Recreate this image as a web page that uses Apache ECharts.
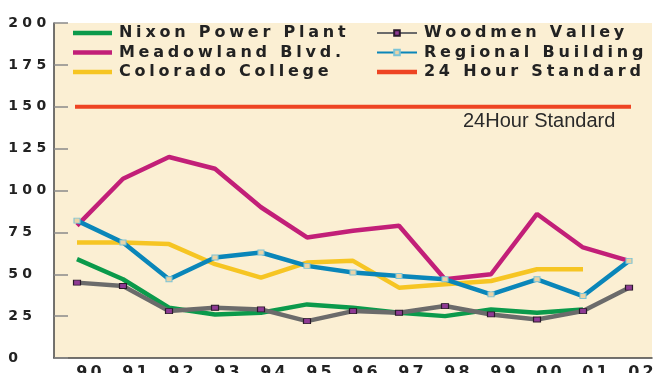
<!DOCTYPE html>
<html>
<head>
<meta charset="utf-8">
<script src="https://cdn.jsdelivr.net/npm/echarts@6/dist/echarts.min.js"></script>
<style>
  html, body { margin: 0; padding: 0; background: #ffffff; }
  #chart { width: 658px; height: 373px; }
</style>
</head>
<body>
<div id="chart"></div>
<script>
// Years along the x axis
const years = ['90', '91', '92', '93', '94', '95', '96', '97', '98', '99', '00', '01', '02'];

// 24-hour values per monitoring site
const nixon      = [59, 47, 30, 26, 27, 32, 30, 27, 25, 29, 27, 29, null];
const woodmen    = [45, 43, 28, 30, 29, 22, 28, 27, 31, 26, 23, 28, 42];
const meadowland = [79, 107, 120, 113, 90, 72, 76, 79, 47, 50, 86, 66, 58];
const regional   = [82, 69, 47, 60, 63, 55, 51, 49, 47, 38, 47, 37, 58];
const colorado   = [69, 69, 68, 56, 48, 57, 58, 42, 44, 46, 53, 53, null];
const standard   = [150, 150, 150, 150, 150, 150, 150, 150, 150, 150, 150, 150, 150];

const seriesNames = ['Nixon Power Plant', 'Meadowland Blvd.', 'Colorado College',
                     'Woodmen Valley', 'Regional Building', '24 Hour Standard'];

// Wide, letter-spaced bold lettering: each character is its own rich segment
function spaced(str) {
  return String(str).split('').map(function (c) { return '{c|' + c + '}'; }).join('');
}
function wideRich(size, pad, lh) {
  return { c: { fontSize: size, fontWeight: 'bold', fontFamily: 'DejaVu Sans', color: '#222222',
                padding: [0, pad, 0, pad], lineHeight: lh } };
}

const bar = 'path://M0,0H40V4.5H0Z';
const chart = echarts.init(document.getElementById('chart'), null, { renderer: 'canvas' });

chart.setOption({
  animation: false,
  backgroundColor: '#ffffff',
  grid: {
    left: 54, right: 6, top: 23, bottom: 15,
    outerBoundsMode: 'none',
    containLabel: false,
    show: true, backgroundColor: '#fbefd3', borderWidth: 0
  },
  legend: [
    {
      orient: 'vertical', left: 73, top: 25, padding: 0,
      itemWidth: 39, itemHeight: 7, itemGap: 3.5,
      data: [
        { name: seriesNames[0], icon: bar },
        { name: seriesNames[1], icon: bar },
        { name: seriesNames[2], icon: bar }
      ],
      formatter: spaced,
      textStyle: { rich: wideRich(16, 1.9, 17) }
    },
    {
      orient: 'vertical', left: 376, top: 25, padding: 0,
      itemWidth: 40, itemHeight: 7, itemGap: 3.5,
      data: [
        { name: seriesNames[3] },
        { name: seriesNames[4] },
        { name: seriesNames[5], icon: bar }
      ],
      formatter: spaced,
      textStyle: { rich: wideRich(16, 1.9, 17) }
    }
  ],
  xAxis: {
    type: 'category',
    data: years,
    boundaryGap: true,
    axisLine: { lineStyle: { color: '#444444', width: 1.5 } },
    axisTick: { inside: true, length: 8, lineStyle: { color: '#555555', width: 1.2 } },
    axisLabel: {
      interval: 0,
      margin: 6,
      padding: [0, 0, 0, 24],
      formatter: spaced,
      rich: wideRich(16, 1.5, 18)
    },
    splitLine: { show: false }
  },
  yAxis: {
    type: 'value',
    min: 0, max: 200, interval: 25,
    axisLine: { show: true, lineStyle: { color: '#444444', width: 1.5 } },
    axisTick: { show: true, inside: true, length: 14, lineStyle: { color: '#8a8a8a', width: 1.5 } },
    axisLabel: {
      align: 'left',
      margin: 48,
      formatter: spaced,
      rich: wideRich(14, 2.2, 14)
    },
    splitLine: { show: false }
  },
  series: [
    {
      name: seriesNames[2], type: 'line', data: colorado, symbol: 'none',
      color: '#f6c523', lineStyle: { width: 4.5, color: '#f6c523' }
    },
    {
      name: seriesNames[1], type: 'line', data: meadowland, symbol: 'none',
      color: '#c21f78', lineStyle: { width: 4.5, color: '#c21f78' }
    },
    {
      name: seriesNames[0], type: 'line', data: nixon, symbol: 'none',
      color: '#0b9a4b', lineStyle: { width: 4.5, color: '#0b9a4b' }
    },
    {
      name: seriesNames[3], type: 'line', data: woodmen,
      symbol: 'rect', symbolSize: [7, 5],
      itemStyle: { color: '#8e3a94', borderColor: '#2a1a2a', borderWidth: 1 },
      lineStyle: { width: 4.5, color: '#6b6b6b' }
    },
    {
      name: seriesNames[4], type: 'line', data: regional,
      symbol: 'rect', symbolSize: [6, 5],
      itemStyle: { color: '#ead3a6', borderColor: '#7cc4d6', borderWidth: 1 },
      lineStyle: { width: 4.5, color: '#0a86b9' }
    },
    {
      name: seriesNames[5], type: 'line', data: standard, symbol: 'none',
      color: '#ee4423', lineStyle: { width: 4, color: '#ee4423', cap: 'square' }
    }
  ],
  graphic: [
    {
      type: 'text', left: 463, top: 111,
      style: { text: '24Hour Standard', fontSize: 20, fontFamily: 'Liberation Sans',
               fill: '#2a2a2a' }
    }
  ]
});
</script>
</body>
</html>
